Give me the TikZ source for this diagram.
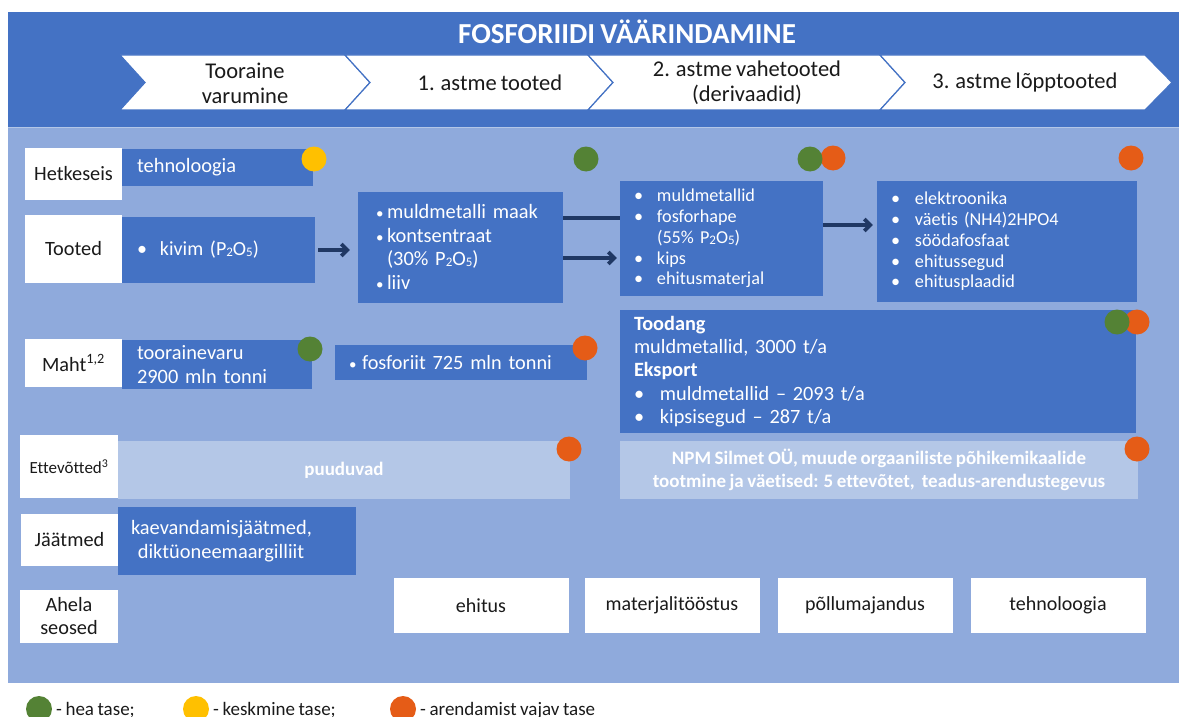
\documentclass[tikz,border=0pt]{standalone}
\usepackage{fontspec}
\setmainfont{Carlito}[Ligatures=NoCommon, WordSpace=0.82]
\usetikzlibrary{arrows.meta}
\definecolor{dblue}{HTML}{4472C4}
\definecolor{panel}{HTML}{8FAADC}
\definecolor{lightbox}{HTML}{B4C7E7}
\definecolor{navy}{HTML}{203864}
\definecolor{good}{HTML}{548235}
\definecolor{mid}{HTML}{FFC000}
\definecolor{weak}{HTML}{E55C17}
\definecolor{ink}{HTML}{1A1A1A}
% small digits in chemical formulas
\newcommand\subdig[1]{\raisebox{-0.1ex}{\fontsize{13}{13}\selectfont #1}}
% bullet in a box of given width
\newcommand\bul[1]{\makebox[#1][l]{•}}
% smaller bullet
\newcommand\sbul[1]{\makebox[#1][l]{\fontsize{15}{15}\selectfont •}}
\begin{document}
\begin{tikzpicture}[x=1pt,y=-1pt,
  chev/.style={fill=white, draw=dblue, line width=1.2pt},
  chevtxt/.style={text=ink, align=center, inner sep=0pt, font=\fontsize{22.5}{25}\selectfont},
  lab/.style={fill=white, text=ink, inner sep=0pt, align=center, font=\fontsize{20.3}{24}\selectfont},
  bbox/.style={fill=dblue, text=white, inner sep=0pt, align=left},
  lbox/.style={fill=lightbox, text=white, inner sep=0pt, align=center, font=\bfseries\fontsize{19}{23}\selectfont},
  wbox/.style={fill=white, text=ink, inner sep=0pt, align=center, minimum width=175pt, minimum height=55pt, font=\fontsize{20}{24}\selectfont},
  dot/.style={circle, inner sep=0pt, minimum size=25pt},
  flow/.style={draw=navy, line width=3.6pt},
  arr/.style={flow, -{Straight Barb[length=6pt,width=12pt]}},
  legtxt/.style={anchor=base west, inner sep=0pt, text=ink, font=\fontsize{19}{22}\selectfont}]
\useasboundingbox (0,0) rectangle (1179,717);
\clip (0,0) rectangle (1179,717);

% header band and body panel
\fill[dblue] (8,12) rectangle (1179,126.5);
\fill[panel] (8,128) rectangle (1179,683);
\draw[lightbox, line width=1.5pt] (8,127.3) -- (1179,127.3);
\node[text=white, inner sep=0pt, font=\bfseries\fontsize{29}{31}\selectfont] (title) at (627,32) {FOSFORIIDI VÄÄRINDAMINE};

% stage chevrons
\path[chev] (120,55) -- (345,55) -- (370,82.5) -- (345,110) -- (120,110) -- (145,82.5) -- cycle;
\path[chev] (345,55) -- (588,55) -- (613,82.5) -- (588,110) -- (345,110) -- (370,82.5) -- cycle;
\path[chev] (588,55) -- (880,55) -- (905,82.5) -- (880,110) -- (588,110) -- (613,82.5) -- cycle;
\path[chev] (880,55) -- (1145,55) -- (1172,82.5) -- (1145,110) -- (880,110) -- (905,82.5) -- cycle;
\node[chevtxt] (s1) at (245,83) {Tooraine\\varumine};
\node[chevtxt] (s2) at (490,83) {1. astme tooted};
\node[chevtxt] (s3) at (747,83) {2. astme vahetooted\\(derivaadid)};
\node[chevtxt] (s4) at (1025,83) {3. astme lõpptooted};

% row labels
\node[lab, minimum width=97pt, minimum height=52pt] (rHet) at (73.5,174) {Hetkeseis};
\node[lab, minimum width=97pt, minimum height=68pt] (rToo) at (73.5,249) {Tooted};
\node[lab, minimum width=97pt, minimum height=48pt] (rMah) at (73.5,363) {Maht\textsuperscript{1,2}};
\node[lab, minimum width=98pt, minimum height=63pt, font=\fontsize{17}{20}\selectfont] (rEtt) at (69,466.5) {Ettevõtted\textsuperscript{3}};
\node[lab, minimum width=97pt, minimum height=52pt] (rJaa) at (69.5,540) {Jäätmed};
\node[lab, minimum width=98pt, minimum height=53pt, font=\fontsize{20.3}{23}\selectfont] (rAhe) at (69,616.5) {Ahela\\seosed};

% current state
\node[bbox, minimum width=191pt, minimum height=37pt, text width=161pt, font=\fontsize{20.4}{24}\selectfont] (tech) at (217.5,167.5) {tehnoloogia};

% products
\node[bbox, minimum width=193pt, minimum height=66pt, text width=163pt, font=\fontsize{20}{24}\selectfont] (kivim) at (218.5,250) {\bul{23pt}kivim (P\subdig{2}O\subdig{5})};
\node[bbox, minimum width=205pt, minimum height=111pt, text width=169pt, font=\fontsize{20.4}{23.7}\selectfont] (maak) at (460.5,247)
  {\sbul{11pt}muldmetalli maak\\\sbul{11pt}kontsentraat\\\hspace*{11pt}(30\% P\subdig{2}O\subdig{5})\\\sbul{11pt}liiv};
\node[bbox, minimum width=203pt, minimum height=115pt, text width=175pt, font=\fontsize{18.2}{20.8}\selectfont] (vahe) at (721.5,238.5)
  {\bul{23pt}muldmetallid\\\bul{23pt}fosforhape\\\hspace*{23pt}(55\% P\subdig{2}O\subdig{5})\\\bul{23pt}kips\\\bul{23pt}ehitusmaterjal};
\node[bbox, minimum width=260pt, minimum height=121pt, text width=232pt, font=\fontsize{18.2}{20.8}\selectfont] (lopp) at (1007,241.5)
  {\bul{24pt}elektroonika\\\bul{24pt}väetis (NH4)2HPO4\\\bul{24pt}söödafosfaat\\\bul{24pt}ehitussegud\\\bul{24pt}ehitusplaadid};

\coordinate (yUp) at (0,218);
\coordinate (yLo) at (0,258);
\coordinate (yMid) at (0,225);
\draw[arr, shorten <=3pt, shorten >=8pt] (kivim.east) -- (kivim.east -| maak.west);
\draw[flow] (maak.east |- yUp) -- (vahe.west |- yUp);
\draw[arr, shorten >=3pt] (maak.east |- yLo) -- (vahe.west |- yLo);
\draw[arr, shorten >=4pt] (vahe.east |- yMid) -- (lopp.west |- yMid);

% volumes
\node[bbox, minimum width=190pt, minimum height=49pt, text width=160pt, font=\fontsize{20.4}{24}\selectfont] (varu) at (217,364.5) {toorainevaru\\2900 mln tonni};
\node[bbox, minimum width=252pt, minimum height=35pt, text width=224pt, font=\fontsize{20.3}{24}\selectfont] (fosf) at (461,362.5) {\sbul{13pt}fosforiit 725 mln tonni};
\node[bbox, minimum width=516pt, minimum height=123pt, text width=488pt, font=\fontsize{20.3}{23.2}\selectfont] (tood) at (878,371.5)
  {\textbf{Toodang}\\muldmetallid, 3000 t/a\\\textbf{Eksport}\\\bul{26pt}muldmetallid – 2093 t/a\\\bul{26pt}kipsisegud – 287 t/a};

% companies
\node[lbox, minimum width=452pt, minimum height=58pt] (puud) at (344,470) {puuduvad};
\node[lbox, minimum width=518pt, minimum height=58pt] (npm) at (879,470)
  {NPM Silmet OÜ, muude orgaaniliste põhikemikaalide\\tootmine ja väetised: 5 ettevõtet,\ \ teadus-arendustegevus};

% waste
\node[bbox, minimum width=238pt, minimum height=68pt, text width=212pt, font=\fontsize{20.4}{24}\selectfont] (jaat) at (237,541) {kaevandamisjäätmed,\\\ diktüoneemaargilliit};

% value chain links
\node[wbox] (lEhi) at (481,605.5) {ehitus};
\node[wbox] (lMat) at (672,605.5) {materjalitööstus};
\node[wbox] (lPol) at (865,605.5) {põllumajandus};
\node[wbox] (lTeh) at (1058,605.5) {tehnoloogia};

% status markers
\node[dot, fill=mid] (d1) at (314,159) {};
\node[dot, fill=good] (d2) at (586,159) {};
\node[dot, fill=weak] (d3b) at (833,158) {};
\node[dot, fill=good] (d3a) at (810,159) {};
\node[dot, fill=weak] (d4) at (1131,158) {};
\node[dot, fill=good] (d5) at (310,349) {};
\node[dot, fill=weak] (d6) at (585,348) {};
\node[dot, fill=weak] (d7b) at (1137,322) {};
\node[dot, fill=good] (d7a) at (1117,322) {};
\node[dot, fill=weak] (d8) at (569,449) {};
\node[dot, fill=weak] (d9) at (1137,449) {};

% legend
\node[dot, fill=good, minimum size=26pt] (kGood) at (39,709) {};
\node[legtxt] (tGood) at (56,715.5) {- hea tase;};
\node[dot, fill=mid, minimum size=26pt] (kMid) at (196,709) {};
\node[legtxt] (tMid) at (213,715.5) {- keskmine tase;};
\node[dot, fill=weak, minimum size=26pt] (kWeak) at (403,709) {};
\node[legtxt] (tWeak) at (420,715.5) {- arendamist vajav tase};
\end{tikzpicture}
\end{document}
